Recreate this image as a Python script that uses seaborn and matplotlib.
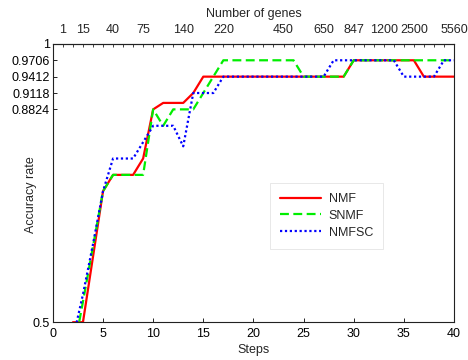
import pandas as pd
import matplotlib
matplotlib.use('Agg')
import matplotlib.pyplot as plt
import seaborn as sns

steps = list(range(1, 41))

nmf = [0.30, 0.5, 0.5, 0.6176, 0.7353, 0.7647, 0.7647, 0.7647, 0.7941, 0.8824,
       0.894, 0.894, 0.894, 0.9118, 0.9412, 0.9412, 0.9412, 0.9412, 0.9412, 0.9412,
       0.9412, 0.9412, 0.9412, 0.9412, 0.9412, 0.9412, 0.9412, 0.9412, 0.9412, 0.9706,
       0.9706, 0.9706, 0.9706, 0.9706, 0.9706, 0.9706, 0.9412, 0.9412, 0.9412, 0.9412]

snmf = [0.35, 0.44, 0.537, 0.636, 0.7353, 0.7647, 0.7647, 0.7647, 0.7647, 0.8824,
        0.8529, 0.8824, 0.8824, 0.8824, 0.9118, 0.9412, 0.9706, 0.9706, 0.9706, 0.9706,
        0.9706, 0.9706, 0.9706, 0.9706, 0.9412, 0.9412, 0.9412, 0.9412, 0.9412, 0.9706,
        0.9706, 0.9706, 0.9706, 0.9706, 0.9706, 0.9706, 0.9706, 0.9706, 0.9706, 0.9706]

nmfsc = [0.35, 0.47, 0.55, 0.64, 0.7353, 0.7941, 0.7941, 0.7941, 0.8235, 0.8529,
         0.8529, 0.8529, 0.816, 0.9118, 0.9118, 0.9118, 0.9412, 0.9412, 0.9412, 0.9412,
         0.9412, 0.9412, 0.9412, 0.9412, 0.9412, 0.9412, 0.9412, 0.9706, 0.9706, 0.9706,
         0.9706, 0.9706, 0.9706, 0.9706, 0.9412, 0.9412, 0.9412, 0.9412, 0.9706, 0.9706]

gene_pos = [1, 3, 6, 9, 13, 17, 23, 27, 30, 33, 36, 40]
gene_labels = ['1', '15', '40', '75', '140', '220', '450', '650', '847', '1200', '2500', '5560']

yticks = [0.5, 0.8824, 0.9118, 0.9412, 0.9706, 1]
ytick_labels = ['0.5', '0.8824', '0.9118', '0.9412', '0.9706', '1']

df = pd.concat([
    pd.DataFrame({'Steps': steps, 'Accuracy rate': nmf, 'Method': 'NMF'}),
    pd.DataFrame({'Steps': steps, 'Accuracy rate': snmf, 'Method': 'SNMF'}),
    pd.DataFrame({'Steps': steps, 'Accuracy rate': nmfsc, 'Method': 'NMFSC'}),
], ignore_index=True)

sns.set_style('white')
plt.rcParams['font.family'] = ['Liberation Sans', 'DejaVu Sans']

fig = plt.figure(figsize=(4.68, 3.6), dpi=100)
ax = fig.add_axes([0.113, 0.105, 0.857, 0.773])

palette = {'NMF': '#ff0000', 'SNMF': '#00ee00', 'NMFSC': '#0000ff'}
dashes = {'NMF': '', 'SNMF': (4, 2), 'NMFSC': (1, 1.2)}
sns.lineplot(data=df, x='Steps', y='Accuracy rate', hue='Method', style='Method',
             palette=palette, dashes=dashes, linewidth=1.6, ax=ax)

fs = 9
ax.set_xlim(0, 40)
ax.set_ylim(0.5, 1)
ax.set_xticks(range(0, 41, 5))
ax.set_yticks(yticks)
ax.set_yticklabels(ytick_labels)
ax.tick_params(direction='in', length=3, labelsize=fs, colors='black', width=0.6,
               bottom=True, left=True, top=False, right=False)
ax.tick_params(axis='x', pad=4)
ax.tick_params(axis='y', pad=2)
for s in ax.spines.values():
    s.set_color('#222222')
    s.set_linewidth(0.8)
ax.set_xlabel('Steps', fontsize=fs, labelpad=3)
ax.set_ylabel('Accuracy rate', fontsize=fs)
ax.yaxis.set_label_coords(-0.04, 0.46)

top = ax.secondary_xaxis('top')
top.set_xticks(gene_pos)
top.set_xticklabels(gene_labels)
top.set_xticks(range(0, 41), minor=True)
top.tick_params(which='both', direction='in', length=2, labelsize=fs, width=0.6, pad=6)
top.set_xlabel('Number of genes', fontsize=fs, labelpad=5)

leg = ax.legend(loc='upper left', bbox_to_anchor=(0.541, 0.5), borderaxespad=0,
                fontsize=fs, frameon=True, fancybox=False, handlelength=3.3,
                borderpad=0.8, labelspacing=0.38, handletextpad=0.6)
leg.get_frame().set_edgecolor('#dddddd')
leg.get_frame().set_linewidth(0.6)

fig.savefig('out.png', dpi=100)
